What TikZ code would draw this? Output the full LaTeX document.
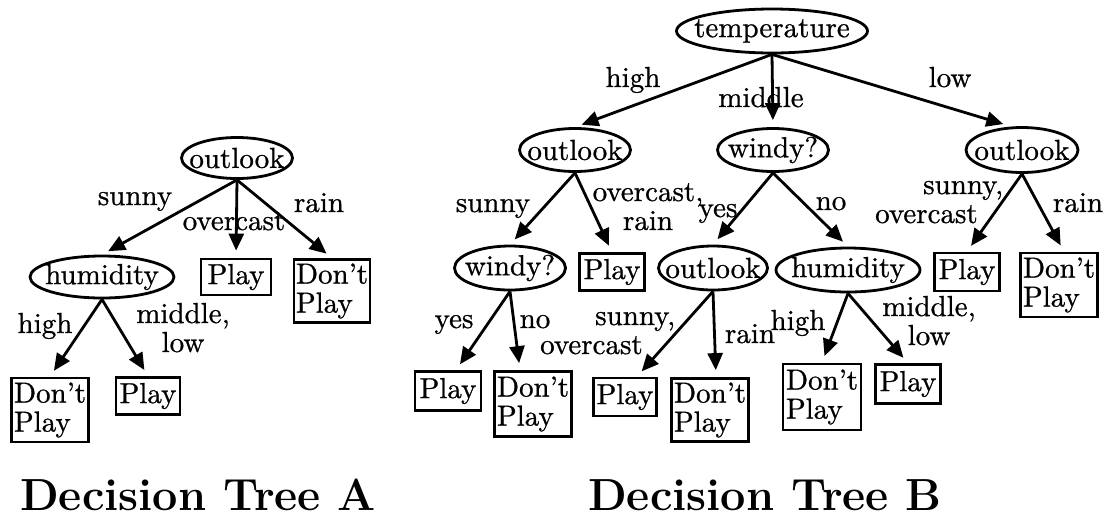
\documentclass[tikz,border=0pt]{standalone}
\usepackage{fontspec}
\usetikzlibrary{shapes.geometric,arrows.meta}

% book-weight Latin Modern (10pt design) for all node texts
\newfontfamily\nodefont{lmroman10-regular.otf}[Ligatures=TeX, FakeBold=0.8]

% zero-width text so that the oval size is set by minimum width/height only
\newcommand\zw[1]{\makebox[0pt]{#1}}

\tikzset{
  every node/.style={font=\nodefont\fontsize{29}{29}\selectfont, inner sep=0pt},
  oval/.style 2 args={ellipse, draw, line width=2.8pt, minimum width=#1, minimum height=#2},
  leaf/.style 2 args={rectangle, draw, line width=2.8pt, minimum width=#1, minimum height=#2, align=left},
  lbl/.style={anchor=base, align=center},
  lblL/.style={anchor=base west, align=left},
  arr/.style={line width=2.8pt, -{Triangle[length=17pt,width=15pt]}, shorten >=7pt},
  title/.style={anchor=base west, font=\rmfamily\fontsize{45}{48}\selectfont\bfseries}
}

\begin{document}
\begin{tikzpicture}[x=1pt,y=-1pt]
\useasboundingbox (0,0) rectangle (1109,523);

% ---------- Decision Tree A ----------
\node[oval={111}{41}] (aO) at (237,158) {\zw{outlook}};
\node[oval={144}{42}] (aH) at (102,277) {\zw{humidity}};
\node[leaf={70}{36}] (aP) at (236,277) {Play};
\node[leaf={76}{63}] (aD) at (332,291) {Don’t\\Play};
\node[leaf={77}{64}] (aD2) at (50,410) {Don’t\\Play};
\node[leaf={64}{37}] (aP2) at (148,396) {Play};

\draw[arr] (aO.south) -- (aH.north);
\draw[arr] (aO.south) -- (aP.north);
\draw[arr] (aO.south) -- (aD.north);
\draw[arr] (aH.south) -- (aD2.north);
\draw[arr] (aH.south) -- (aP2.north);

% multi-line labels sit on the baseline of their last line
\node[lbl] (aL1) at (135,205) {sunny};
\node[lbl] (aL2) at (234,230) {overcast};
\node[lbl] (aL3) at (319,212) {rain};
\node[lbl] (aL4) at (45,333) {high};
\node[lbl] (aL5) at (183,352) {middle,\\low};

% ---------- Decision Tree B ----------
\node[oval={191}{44}] (bT) at (772,31) {\zw{temperature}};
\node[oval={111}{43}] (bL) at (575,150) {\zw{outlook}};
\node[oval={111}{43}] (bM) at (773,150) {\zw{windy?}};
\node[oval={112}{45}] (bR) at (1022,150) {\zw{outlook}};

\node[oval={111}{44}] (bLL) at (510,268) {\zw{windy?}};
\node[leaf={65}{37}] (bLR) at (612,272) {Play};
\node[oval={109}{44}] (bML) at (713,268) {\zw{outlook}};
\node[oval={144}{44}] (bMR) at (848,270) {\zw{humidity}};
\node[leaf={65}{38}] (bRL) at (967,272) {Play};
\node[leaf={77}{64}] (bRR) at (1059,285) {Don’t\\Play};

\node[leaf={66}{39}] (bLLa) at (448,391) {Play};
\node[leaf={77}{65}] (bLLb) at (533,404) {Don’t\\Play};
\node[leaf={63}{38}] (bMLa) at (625,397) {Play};
\node[leaf={77}{63}] (bMLb) at (710,410) {Don’t\\Play};
\node[leaf={78}{66}] (bMRa) at (822,397) {Don’t\\Play};
\node[leaf={65}{39}] (bMRb) at (908,384) {Play};

\draw[arr] (bT.south) -- (bL.north);
\draw[arr] (bT.south) -- (bM.north);
\draw[arr] (bT.south) -- ([xshift=-12pt]bR.north);
\draw[arr] (bL.south) -- (bLL.north);
\draw[arr] (bL.south) -- (bLR.north);
\draw[arr] (bM.south) -- (bML.north);
\draw[arr] (bM.south) -- (bMR.north);
\draw[arr] (bR.south) -- (bRL.north);
\draw[arr] (bR.south) -- ([xshift=5pt]bRR.north);
\draw[arr] (bLL.south) -- ([xshift=8pt]bLLa.north);
\draw[arr] (bLL.south) -- ([xshift=-13pt]bLLb.north);
\draw[arr] (bML.south) -- ([xshift=12pt]bMLa.north);
\draw[arr] (bML.south) -- ([xshift=6pt]bMLb.north);
\draw[arr] (bMR.south) -- (bMRa.north);
\draw[arr] (bMR.south) -- (bMRb.north);

\node[lbl] (bL1) at (633,87) {high};
\node[lbl] (bL2) at (761,107) {middle};
\node[lbl] (bL3) at (950,87) {low};
\node[lbl] (bL4) at (493,212) {sunny};
\node[lbl] (bL5) at (648,230) {overcast,\\rain};
\node[lbl] (bL6) at (718,217) {yes};
\node[lbl] (bL7) at (831,210) {no};
\node[lblL] (bL8) at (875,223) {\hspace*{48pt}sunny,\\overcast};
\node[lbl] (bL9) at (1078,212) {rain};
\node[lbl] (bL10) at (454,328) {yes};
\node[lbl] (bL11) at (535,328) {no};
\node[lblL] (bL12) at (540,354) {\hspace*{55pt}sunny,\\overcast};
\node[lbl] (bL13) at (750,343) {rain};
\node[lbl] (bL14) at (798,330) {high};
\node[lbl] (bL15) at (929,345) {middle,\\low};

% ---------- captions ----------
\node[title] (tA) at (20,510) {Decision Tree A};
\node[title] (tB) at (588,510) {Decision Tree B};
\end{tikzpicture}
\end{document}
